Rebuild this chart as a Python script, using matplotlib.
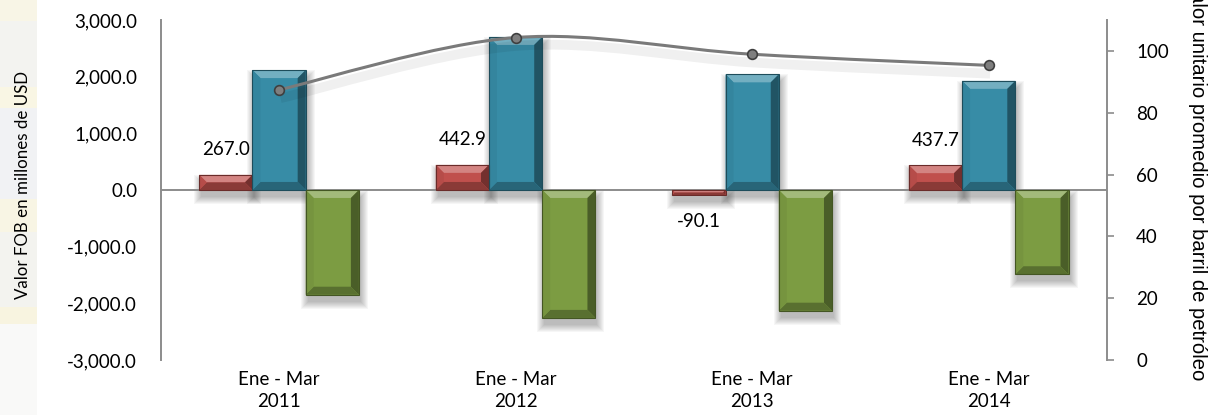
import numpy as np
import matplotlib
matplotlib.use("Agg")
import matplotlib.pyplot as plt
import matplotlib.patheffects as pe
from matplotlib.patches import Polygon, Rectangle, PathPatch
from matplotlib.path import Path

plt.rcParams["font.family"] = ["Lato", "DejaVu Sans"]

# --- data ---
periodos = ["Ene - Mar\n2011", "Ene - Mar\n2012", "Ene - Mar\n2013", "Ene - Mar\n2014"]
balanza = [267.0, 442.9, -90.1, 437.7]
exportaciones = [2115.0, 2700.0, 2040.0, 1925.0]
importaciones = [-1848.0, -2257.0, -2130.0, -1487.0]
precio_barril = [87.4, 104.3, 98.9, 95.3]

GRAY = "#8C8C8C"
FS = 13.5

fig = plt.figure(figsize=(12.09, 4.15), dpi=100)

# faint watermark strip on the far left
bands = [(0.0, 0.05, "#F8F5E6"), (0.05, 0.21, "#F3F3F0"), (0.21, 0.26, "#F9F6E4"),
         (0.26, 0.48, "#F1F2F4"), (0.48, 0.56, "#F8F5E4"), (0.56, 0.74, "#F3F3EF"),
         (0.74, 0.78, "#F8F4E0"), (0.78, 1.0, "#F9F9F8")]
for y0, y1, c in bands:
    fig.patches.append(Rectangle((0, 1 - y1), 0.031, y1 - y0, transform=fig.transFigure,
                                 facecolor=c, edgecolor="none", zorder=-5))

ax = fig.add_axes([0.133, 0.1325, 0.7826, 0.8195])
ax.set_zorder(1)
ax.patch.set_visible(False)
x = np.arange(len(periodos))
w = 0.225

ax.set_xlim(-0.5, len(periodos) - 0.5)
ax.set_ylim(-3000, 3000)


def lighten(c, f):
    c = np.array(matplotlib.colors.to_rgb(c))
    return tuple(c + (1 - c) * f)


def darken(c, f):
    c = np.array(matplotlib.colors.to_rgb(c))
    return tuple(c * (1 - f))


def bevel_bar(rect, base):
    """Draw a shadow and bevel edges around a bar patch, in pixel space."""
    to_px = ax.transData
    to_data = ax.transData.inverted()
    x0, y0 = rect.get_x(), rect.get_y()
    x1, y1 = x0 + rect.get_width(), y0 + rect.get_height()
    (px0, py0), (px1, py1) = to_px.transform([(x0, min(y0, y1)), (x1, max(y0, y1))])

    # soft drop shadow
    for k in range(8):
        sh = [(px0 - k + 2, py0 - 7 - k), (px1 + k + 2, py0 - 7 - k),
              (px1 + k + 2, py1 - 7 + k), (px0 - k + 2, py1 - 7 + k)]
        ax.add_patch(Polygon(to_data.transform(sh), closed=True, facecolor="black",
                             edgecolor="none", alpha=0.035, zorder=1))

    b = min(8.0, (py1 - py0) / 2.0, (px1 - px0) / 2.0)
    outer = [(px0, py1), (px1, py1), (px1, py0), (px0, py0)]
    inner = [(px0 + b, py1 - b), (px1 - b, py1 - b), (px1 - b, py0 + b), (px0 + b, py0 + b)]
    faces = [
        ([outer[0], outer[1], inner[1], inner[0]], lighten(base, 0.30)),  # top
        ([outer[1], outer[2], inner[2], inner[1]], darken(base, 0.40)),   # right
        ([outer[2], outer[3], inner[3], inner[2]], darken(base, 0.28)),   # bottom
        ([outer[3], outer[0], inner[0], inner[3]], darken(base, 0.05)),   # left
    ]
    for poly, col in faces:
        ax.add_patch(Polygon(to_data.transform(poly), closed=True, facecolor=col,
                             edgecolor="none", zorder=3.5))
    ax.add_patch(Polygon(to_data.transform(outer), closed=True, facecolor="none",
                         edgecolor=darken(base, 0.45), linewidth=0.8, zorder=3.6))


series = [(balanza, -w, "#C0504D"), (exportaciones, 0.0, "#378CA6"),
          (importaciones, w, "#7C9C42")]
for vals, off, col in series:
    bars = ax.bar(x + off, vals, width=w, color=col, edgecolor="none", zorder=3)
    for r in bars:
        bevel_bar(r, col)

ax.axhline(0, color=GRAY, linewidth=1.4, zorder=2)

# data labels on the balance bars
for xi, v in zip(x - w, balanza):
    dy = 18 if v >= 0 else -19
    ax.annotate(f"{v:,.1f}", (xi, v), xytext=(0, dy), textcoords="offset points",
                ha="center", va="center", fontsize=FS, zorder=6)

ax.set_yticks(np.arange(-3000, 3001, 1000))
ax.set_yticklabels([f"{t:,.1f}" for t in np.arange(-3000, 3001, 1000)])
ax.tick_params(axis="y", length=0, pad=17, labelsize=FS)
ax.set_xticks(x)
ax.set_xticklabels(periodos, linespacing=1.35)
ax.tick_params(axis="x", length=0, pad=8, labelsize=FS)
for s in ["top", "right", "bottom"]:
    ax.spines[s].set_visible(False)
ax.spines["left"].set_color(GRAY)
ax.spines["left"].set_linewidth(1.4)
ax.set_ylabel("Valor FOB en millones de USD", fontsize=12.2, va="center")
ax.yaxis.set_label_coords(-0.146, 0.515)

# --- secondary axis: oil price, smoothed line ---
ax2 = ax.twinx()
ax2.set_zorder(2)
ax2.set_ylim(0, 110)
ax2.set_yticks(np.arange(0, 101, 20))
ax2.tick_params(axis="y", length=5, width=1.2, color=GRAY, pad=16, labelsize=FS)
for s in ["top", "left", "bottom"]:
    ax2.spines[s].set_visible(False)
ax2.spines["right"].set_color(GRAY)
ax2.spines["right"].set_linewidth(1.4)

# right axis title: runs top to bottom, its end sits near the bottom and its start is cut
fig.text(1197 / 1209, 1 - 380 / 415, "Valor unitario promedio por barril de petróleo",
         rotation=270, rotation_mode="anchor", ha="right", va="center",
         fontsize=14.6, family=["Liberation Sans", "DejaVu Sans"])

pts = np.column_stack([x, precio_barril]).astype(float)
verts = [pts[0]]
codes = [Path.MOVETO]
n = len(pts)
for i in range(n - 1):
    p0 = pts[i - 1] if i > 0 else pts[i]
    p3 = pts[i + 2] if i + 2 < n else pts[i + 1]
    c1 = pts[i] + (pts[i + 1] - p0) / 6.0
    c2 = pts[i + 1] - (p3 - pts[i]) / 6.0
    verts += [c1, c2, pts[i + 1]]
    codes += [Path.CURVE4] * 3
curve = PathPatch(Path(verts, codes), facecolor="none", edgecolor="#7A7A7A", linewidth=2.2,
                  zorder=5)
curve.set_path_effects([pe.SimpleLineShadow(offset=(1, -6), shadow_color="black",
                                            alpha=0.06, linewidth=7), pe.Normal()])
ax2.add_patch(curve)
ax2.plot(x, precio_barril, linestyle="none", marker="o", markersize=7,
         markerfacecolor="#7F7F7F", markeredgecolor="#3F3F3F", markeredgewidth=1.2, zorder=6)

fig.savefig("out.png", dpi=100)
